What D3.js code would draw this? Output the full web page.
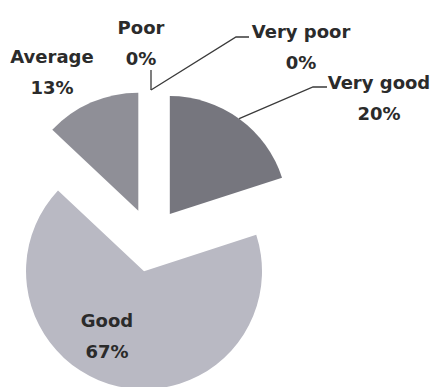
<!DOCTYPE html>
<html>
<head>
<meta charset="utf-8">
<script src="https://cdn.jsdelivr.net/npm/d3@7/dist/d3.min.js"></script>
<style>
  html, body { margin: 0; padding: 0; background: #ffffff; }
  svg { display: block; }
  text { font-family: "DejaVu Sans", sans-serif; font-weight: bold; font-size: 18px; fill: #2b2b2b; }
</style>
</head>
<body>
<div id="chart"></div>
<script>
// ---- data ----
const categories = ["Very good", "Good", "Average", "Poor", "Very poor"];
const values = [20, 67, 13, 0, 0];
const percentLabels = ["20%", "67%", "13%", "0%", "0%"];

// ---- layout (not data) ----
const W = 436, H = 387;
const cx = 151, cy = 240, R = 118, explode = 32;
const fills = ["#76767e", "#b9b9c3", "#8f8f97", "#a0a0a8", "#a0a0a8"];
// label anchor (center x, first-line baseline y) and leader elbow points
const labelPos = [
  { x: 379, y: 89, elbow: [[313, 87], [327, 87]] },
  { x: 107, y: 327, elbow: null },
  { x: 52, y: 63, elbow: null },
  { x: 141, y: 34, elbow: [[151, 70]] },
  { x: 301, y: 38, elbow: [[236, 37], [249, 37]] }
];
const lineGap = 31;

const svg = d3.select("#chart").append("svg").attr("width", W).attr("height", H);

const pie = d3.pie().sort(null).value(d => d).startAngle(0).endAngle(2 * Math.PI);
const arcs = pie(values);
const arcGen = d3.arc().innerRadius(0).outerRadius(R);

function offset(a) {
  const mid = (a.startAngle + a.endAngle) / 2;
  return [explode * Math.sin(mid), -explode * Math.cos(mid)];
}

const g = svg.append("g").attr("transform", `translate(${cx},${cy})`);

g.selectAll("path.slice")
  .data(arcs.filter(a => a.value > 0))
  .enter().append("path")
  .attr("class", "slice")
  .attr("d", arcGen)
  .attr("fill", (d) => fills[d.index])
  .attr("transform", d => { const o = offset(d); return `translate(${o[0]},${o[1]})`; });

// leader lines
arcs.forEach((a, i) => {
  const lp = labelPos[i];
  if (!lp.elbow) return;
  const mid = (a.startAngle + a.endAngle) / 2;
  const o = offset(a);
  const sx = cx + o[0] + R * Math.sin(mid);
  const sy = cy + o[1] - R * Math.cos(mid);
  const pts = [[sx, sy]].concat(lp.elbow);
  svg.append("path")
    .attr("d", d3.line()(pts))
    .attr("fill", "none")
    .attr("stroke", "#3a3a3a")
    .attr("stroke-width", 1.3);
});

// labels
arcs.forEach((a, i) => {
  const lp = labelPos[i];
  const t = svg.append("text").attr("text-anchor", "middle");
  t.append("tspan").attr("x", lp.x).attr("y", lp.y).text(categories[i]);
  t.append("tspan").attr("x", lp.x).attr("y", lp.y + lineGap).text(percentLabels[i]);
});
</script>
</body>
</html>
